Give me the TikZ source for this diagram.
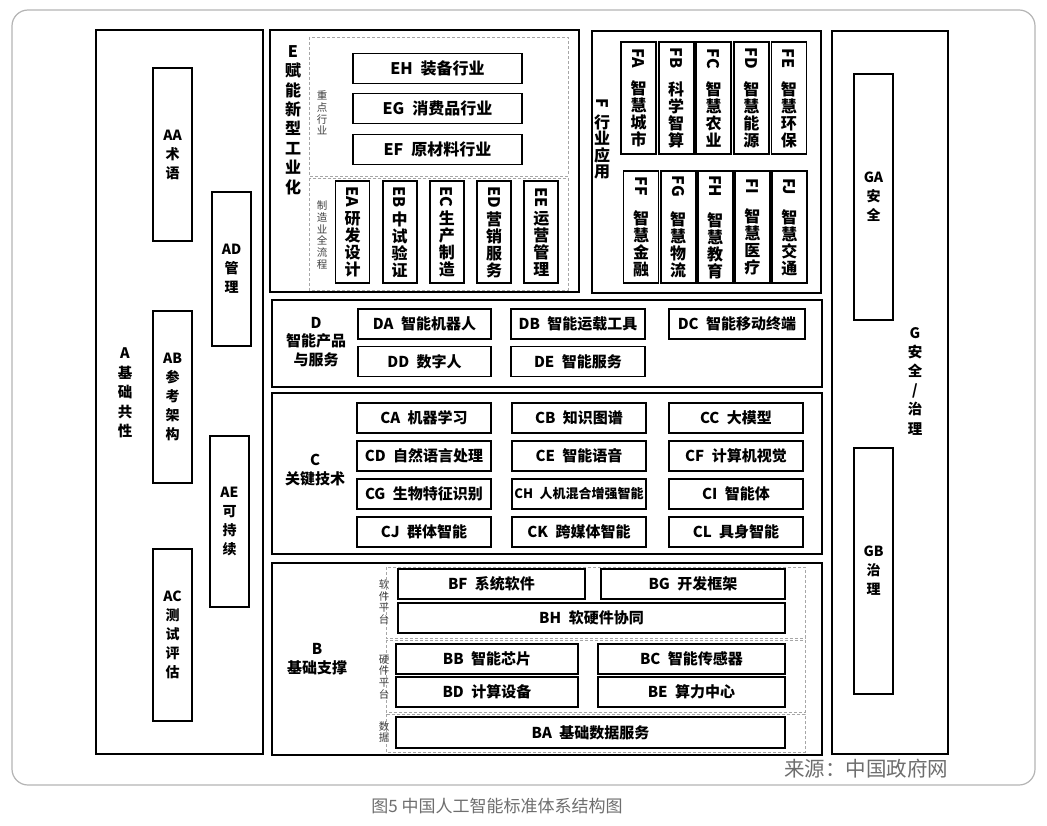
\documentclass[tikz,border=0pt]{standalone}
\usepackage{fontspec}
\setmainfont{Noto Sans CJK SC}
\usepackage{graphicx}
\usepackage{xcolor}
\definecolor{framegray}{HTML}{B4B4B4}
\definecolor{notegray}{HTML}{6E6E6E}

\begin{document}
\begin{tikzpicture}[x=1pt, y=-1pt,
    group/.style={draw, line width=1.5pt, inner sep=0pt},
    cell/.style={draw, line width=1.8pt, inner sep=0pt, minimum height=30pt,
        font=\fontsize{15}{18}\selectfont\bfseries},
    tall/.style={draw, line width=1.8pt, inner sep=0pt, minimum width=39pt,
        align=center, font=\fontsize{14}{19}\selectfont\bfseries},
    slim/.style={draw, line width=1.8pt, inner sep=0pt, align=center,
        font=\fontsize{16}{17}\selectfont\bfseries},
    title/.style={align=center, font=\fontsize{15}{18.5}\selectfont\bfseries},
    zone/.style={draw=black!35, densely dashed, line width=0.6pt},
    tag/.style={align=center, text=black!75, font=\fontsize{10.5}{11.7}\selectfont}]

    \fill[white] (0,0) rectangle (1047,826);
    \useasboundingbox (0,0) rectangle (1047,826);

    % Outer frame
    \draw[framegray, line width=1.2pt, rounded corners=16pt] (12,10) rectangle (1035,785);

    % A: common basis
    \node[group, minimum width=167pt, minimum height=724pt] (A) at (179.5,392) {};
    \node[title, font=\fontsize{14.5}{19.5}\selectfont\bfseries] (Atitle) at (125,393) {A\\基\\础\\共\\性};
    \node[tall, minimum height=173pt] (AA) at (172.5,154.5) {AA\\术\\语};
    \node[tall, minimum height=154pt] (AD) at (231.5,269) {AD\\管\\理};
    \node[tall, minimum height=172pt] (AB) at (172.5,397) {AB\\参\\考\\架\\构};
    \node[tall, minimum height=171pt] (AE) at (229.5,521.5) {AE\\可\\持\\续};
    \node[tall, minimum height=172pt] (AC) at (172.5,635) {AC\\测\\试\\评\\估};

    % E: new industrialisation
    \node[group, minimum width=309pt, minimum height=262pt] (E) at (424.5,161) {};
    \node[title, font=\fontsize{16}{19.4}\selectfont\bfseries] (Etitle) at (293,120) {E\\赋\\能\\新\\型\\工\\业\\化};
    \draw[zone] (309,37) rectangle (568,176);
    \draw[zone] (309,178) rectangle (568,290);
    \node[tag] (Ekey) at (322,113) {重\\点\\行\\业};
    \node[tag] (Eflow) at (322,235) {制\\造\\业\\全\\流\\程};
    \node[cell, minimum width=169pt, font=\fontsize{16}{18}\selectfont\bfseries] (EH) at (437.5,68.5) {EH\enspace 装备行业};
    \node[cell, minimum width=169pt, font=\fontsize{16}{18}\selectfont\bfseries] (EG) at (437.5,108.5) {EG\enspace 消费品行业};
    \node[cell, minimum width=169pt, font=\fontsize{16}{18}\selectfont\bfseries] (EF) at (437.5,149.5) {EF\enspace 原材料行业};
    \foreach \n/\txt [count=\i from 0] in {EA/{研\\发\\设\\计}, EB/{中\\试\\验\\证},
        EC/{生\\产\\制\\造}, ED/{营\\销\\服\\务}, EE/{运\\营\\管\\理}} {
        \node[slim, minimum width=34pt, minimum height=102pt] (\n) at (352.5+47.2*\i,232)
            {\rotatebox{-90}{\n}\\[3pt]\txt};
    }

    % F: industry applications
    \node[group, minimum width=229pt, minimum height=262pt] (F) at (706.5,162) {};
    \node[title, font=\fontsize{16}{16.5}\selectfont\bfseries] (Ftitle) at (602,139) {\rotatebox{-90}{F}\\[5pt]行\\业\\应\\用};
    \foreach \n/\txt [count=\i from 0] in {FA/{智\\慧\\城\\市}, FB/{科\\学\\智\\算},
        FC/{智\\慧\\农\\业}, FD/{智\\慧\\能\\源}, FE/{智\\慧\\环\\保}} {
        \node[slim, minimum width=35pt, minimum height=112pt] (\n) at (638.5+37.6*\i,98)
            {\rotatebox{-90}{\n}\\[12pt]\txt};
    }
    \foreach \n/\txt [count=\i from 0] in {FF/{智\\慧\\金\\融}, FG/{智\\慧\\物\\流},
        FH/{智\\慧\\教\\育}, FI/{智\\慧\\医\\疗}, FJ/{智\\慧\\交\\通}} {
        \node[slim, minimum width=35pt, minimum height=112pt] (\n) at (641+37.1*\i,227)
            {\rotatebox{-90}{\n}\\[14pt]\txt};
    }

    % G: safety and governance
    \node[group, minimum width=116pt, minimum height=723pt] (G) at (890,392.5) {};
    \node[title, font=\fontsize{14.5}{19.2}\selectfont\bfseries] (Gtitle) at (915,381) {G\\安\\全\\/\\治\\理};
    \node[tall, minimum height=246pt] (GA) at (873.5,197) {GA\\安\\全};
    \node[tall, minimum height=246pt] (GB) at (873.5,571) {GB\\治\\理};

    % D: products and services
    \node[group, minimum width=550pt, minimum height=87pt] (D) at (547,343.5) {};
    \node[title] (Dtitle) at (316,342) {D\\智能产品\\与服务};
    \node[cell, minimum width=133pt] (DA) at (424.5,324) {DA\enspace 智能机器人};
    \node[cell, minimum width=134pt] (DB) at (578,324) {DB\enspace 智能运载工具};
    \node[cell, minimum width=136pt] (DC) at (737,324) {DC\enspace 智能移动终端};
    \node[cell, minimum width=133pt] (DD) at (424.5,361.5) {DD\enspace 数字人};
    \node[cell, minimum width=134pt] (DE) at (578,361.5) {DE\enspace 智能服务};

    % C: key technologies
    \node[group, minimum width=550pt, minimum height=161pt] (C) at (547,473.5) {};
    \node[title] (Ctitle) at (315,470) {C\\关键技术};
    \foreach \n/\txt/\sz [count=\i from 0] in {CA/机器学习/15, CB/知识图谱/15, CC/大模型/15,
        CD/自然语言处理/15, CE/智能语音/15, CF/计算机视觉/15,
        CG/生物特征识别/15, CH/人机混合增强智能/13, CI/智能体/15,
        CJ/群体智能/15, CK/跨媒体智能/15, CL/具身智能/15} {
        \pgfmathsetmacro\cx{{424,579,736}[mod(\i,3)]}
        \pgfmathsetmacro\cy{418+38*int(\i/3)}
        \node[cell, minimum width=134pt, font=\fontsize{\sz}{18}\selectfont\bfseries] (\n) at (\cx,\cy)
            {\n\enspace\txt};
    }

    % B: basic support
    \node[group, minimum width=550pt, minimum height=192pt] (B) at (547,659) {};
    \node[title] (Btitle) at (317,659) {B\\基础支撑};
    \draw[zone] (386,567) rectangle (805,638);
    \draw[zone] (386,640) rectangle (805,712);
    \draw[zone] (386,714) rectangle (805,752);
    \node[tag] (Bsoft) at (384,602) {软\\件\\平\\台};
    \node[tag] (Bhard) at (384,677) {硬\\件\\平\\台};
    \node[tag] (Bdata) at (384,732) {数\\据};
    \node[cell, minimum width=187pt] (BF) at (491.5,584) {BF\enspace 系统软件};
    \node[cell, minimum width=184pt] (BG) at (693,584) {BG\enspace 开发框架};
    \node[cell, minimum width=387pt] (BH) at (591.5,618) {BH\enspace 软硬件协同};
    \node[cell, minimum width=182pt] (BB) at (487,659) {BB\enspace 智能芯片};
    \node[cell, minimum width=187pt] (BC) at (691.5,659) {BC\enspace 智能传感器};
    \node[cell, minimum width=182pt] (BD) at (487,692) {BD\enspace 计算设备};
    \node[cell, minimum width=187pt] (BE) at (691.5,692) {BE\enspace 算力中心};
    \node[cell, minimum width=389pt, minimum height=31pt] (BA) at (590.5,732.5) {BA\enspace 基础数据服务};

    % Source and caption
    \node[text=notegray, font=\fontsize{20.5}{22}\selectfont] (source) at (866,769) {来源：中国政府网};
    \node[text=notegray, font=\fontsize{17}{19}\selectfont] (caption) at (497,806) {图5 中国人工智能标准体系结构图};
\end{tikzpicture}
\end{document}
